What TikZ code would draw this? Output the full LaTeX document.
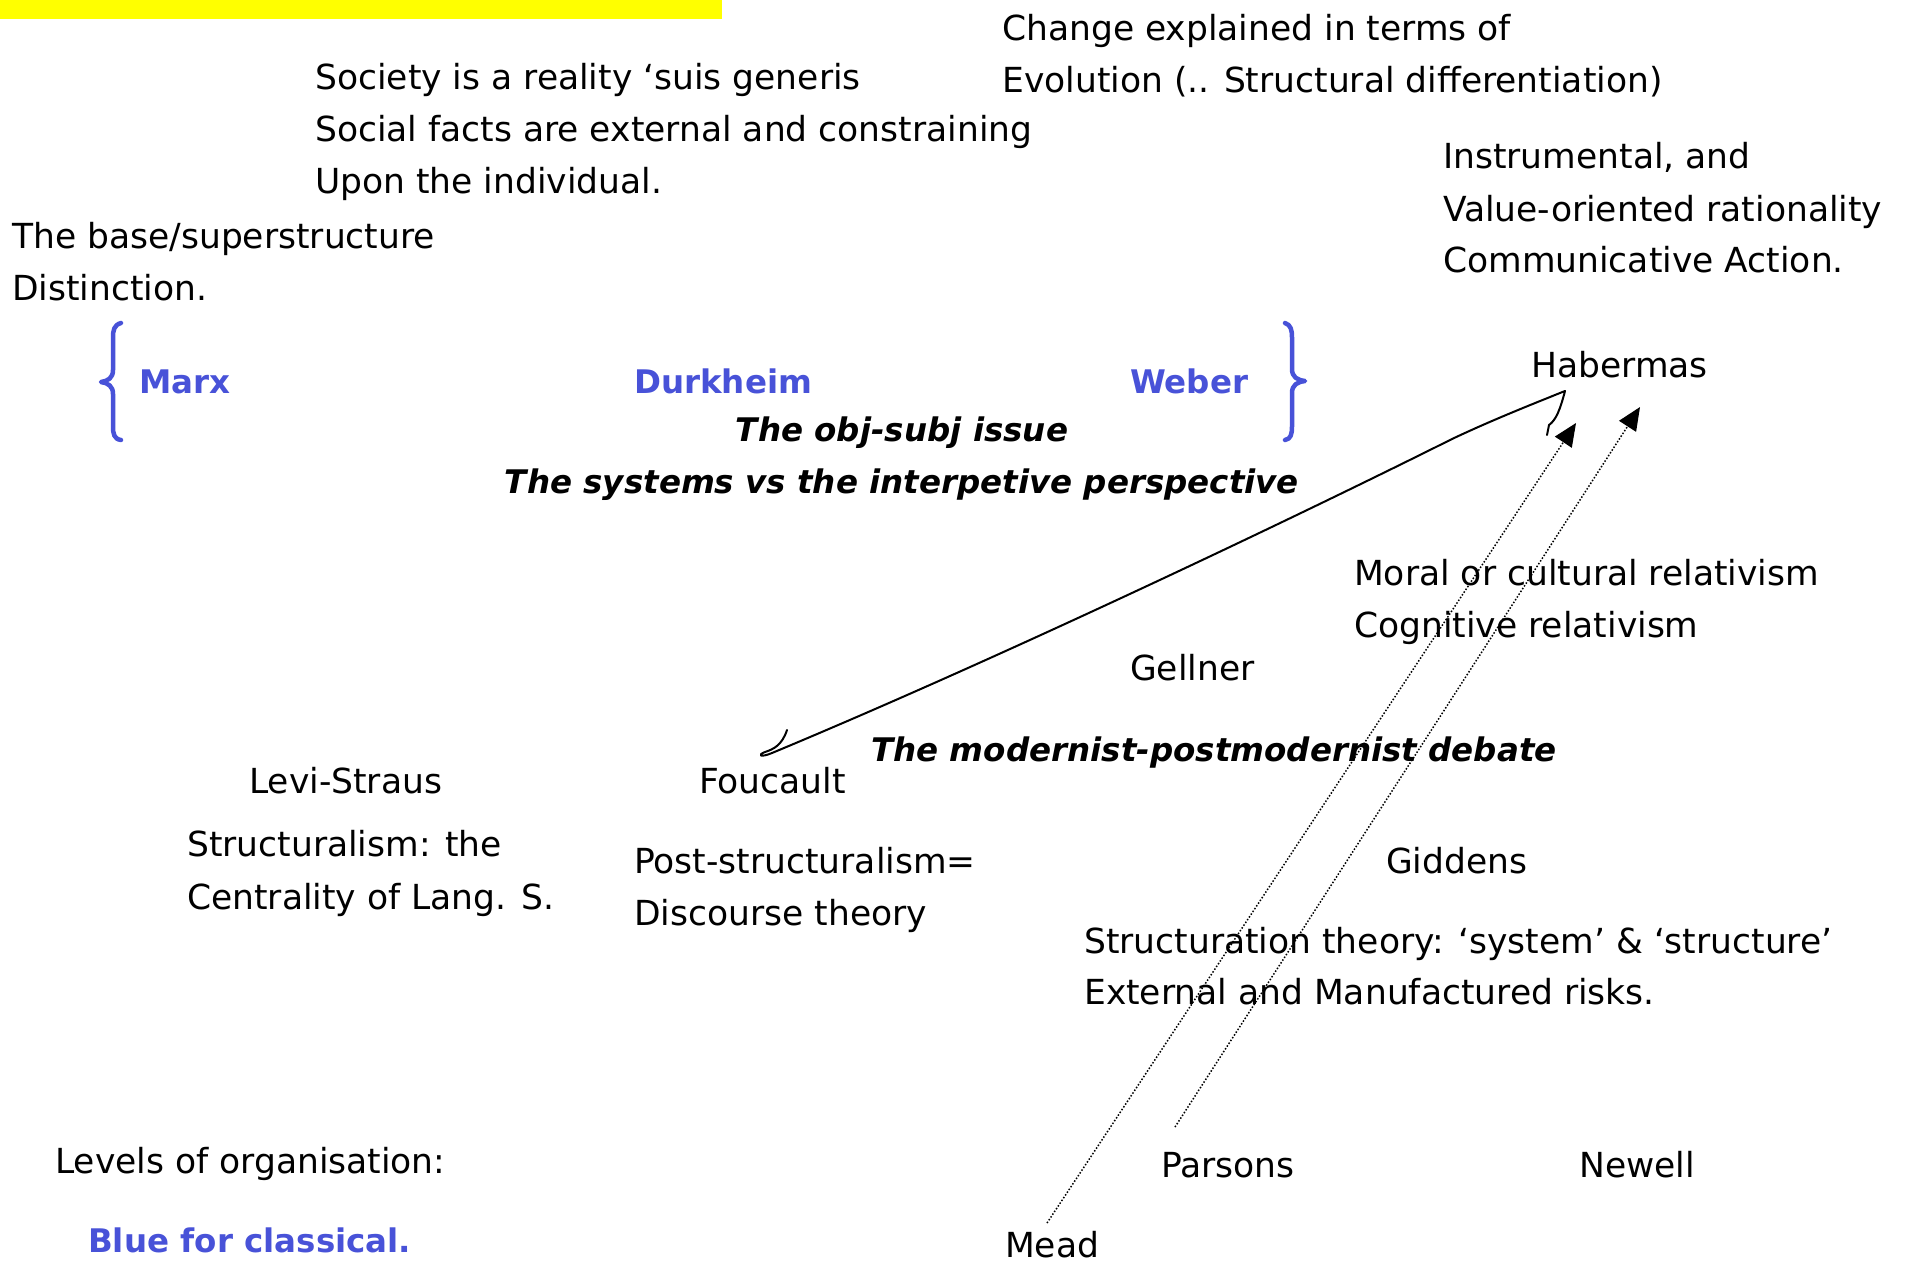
\documentclass[tikz,border=0pt]{standalone}
\usepackage{fontspec}
\setmainfont{DejaVu Sans}
\usetikzlibrary{arrows.meta}
\definecolor{classblue}{RGB}{72,82,216}
\definecolor{titleyellow}{RGB}{255,255,0}
\begin{document}
\begin{tikzpicture}[x=1pt,y=-1pt,
  txt/.style={anchor=base west,inner sep=0pt,font=\fontsize{34.5}{41}\selectfont},
  classic/.style={anchor=base west,inner sep=0pt,font=\fontsize{32.5}{39}\selectfont\bfseries,text=classblue},
  theme/.style={anchor=base,inner sep=0pt,font=\fontsize{32.5}{39}\selectfont\bfseries\itshape},
  influence/.style={dash pattern=on 1.5pt off 1.8pt,line width=1.5pt,-{Triangle[length=23pt,width=20pt]}},
  link/.style={line width=2pt,line cap=round,line join=round},
  bracestyle/.style={draw=classblue,line width=4.5pt,line cap=round,line join=round}]
\useasboundingbox (0,0) rectangle (1916,1262);
\fill[titleyellow] (0,0) rectangle (722,19);

% Durkheim
\node[txt] (soc1) at (315,89) {Society is a reality ‘suis generis};
\node[txt] (soc2) at (315,141) {Social facts are external and constraining};
\node[txt] (soc3) at (315,193) {Upon the individual.};
% Parsons / evolution
\node[txt] (chg1) at (1002,40) {Change explained in terms of};
\node[txt] (chg2) at (1002,92) {Evolution (.. Structural differentiation)};
% Weber / Habermas
\node[txt] (ins1) at (1443,168) {Instrumental, and};
\node[txt] (ins2) at (1443,221) {Value-oriented rationality};
\node[txt] (ins3) at (1443,272) {Communicative Action.};
% Marx
\node[txt] (base1) at (12,248) {The base/superstructure};
\node[txt] (base2) at (12,300) {Distinction.};

% classical
\draw[bracestyle] (121,323) .. controls (114,325) and (113,330) .. (113,338) -- (113,370)
  .. controls (113,378) and (108,381) .. (101,382)
  .. controls (108,383) and (113,386) .. (113,394) -- (113,426)
  .. controls (113,434) and (114,439) .. (121,440);
\draw[bracestyle] (1285,323) .. controls (1291,325) and (1292,330) .. (1292,338) -- (1292,369)
  .. controls (1292,377) and (1297,380) .. (1305,381)
  .. controls (1297,382) and (1292,385) .. (1292,393) -- (1292,426)
  .. controls (1292,434) and (1291,439) .. (1285,440);
\node[classic] (marx) at (139,393) {Marx};
\node[classic] (durkheim) at (634,393) {Durkheim};
\node[classic] (weber) at (1130,393) {Weber};

\node[txt] (habermas) at (1531,377) {Habermas};
\node[theme] (objsubj) at (902,441) {The obj-subj issue};
\node[theme] (systems) at (902,493) {The systems vs the interpetive perspective};

\node[txt] (moral1) at (1354,585) {Moral or cultural relativism};
\node[txt] (moral2) at (1354,637) {Cognitive relativism};
\node[txt] (gellner) at (1130,680) {Gellner};
\node[theme] (debate) at (1214,761) {The modernist-postmodernist debate};

\node[txt] (levi) at (249,793) {Levi-Straus};
\node[txt] (foucault) at (699,793) {Foucault};
\node[txt] (struct1) at (187,856) {Structuralism: the};
\node[txt] (struct2) at (187,909) {Centrality of Lang. S.};
\node[txt] (post1) at (634,873) {Post-structuralism=};
\node[txt] (post2) at (634,925) {Discourse theory};
\node[txt] (giddens) at (1386,873) {Giddens};
\node[txt] (stn1) at (1084,953) {Structuration theory: ‘system’ \& ‘structure’};
\node[txt] (stn2) at (1084,1004) {External and Manufactured risks.};

\node[txt] (levels) at (55,1173) {Levels of organisation:};
\node[classic] (bluecl) at (88,1252) {Blue for classical.};
\node[txt] (parsons) at (1161,1177) {Parsons};
\node[txt] (newell) at (1579,1177) {Newell};
\node[txt] (mead) at (1005,1257) {Mead};

% connectors
\coordinate (foucend) at (787,730);
\coordinate (habend) at (1547,435);
\coordinate (meadtail) at (1047,1223);
\coordinate (meadhead) at (1576,423);
\coordinate (parstail) at (1175,1127);
\coordinate (parshead) at (1640,407);

\draw[link] (foucend) .. controls (782,745) and (774,749) .. (765,752)
  .. controls (757,755) and (760,758) .. (772,753)
  .. controls (1000,658) and (1290,520) .. (1452,439)
  .. controls (1490,421) and (1530,405) .. (1565,391)
  .. controls (1560,410) and (1556,420) .. (1549,425) -- (habend);
\draw[influence] (meadtail) -- (meadhead);
\draw[influence] (parstail) -- (parshead);
\end{tikzpicture}
\end{document}
